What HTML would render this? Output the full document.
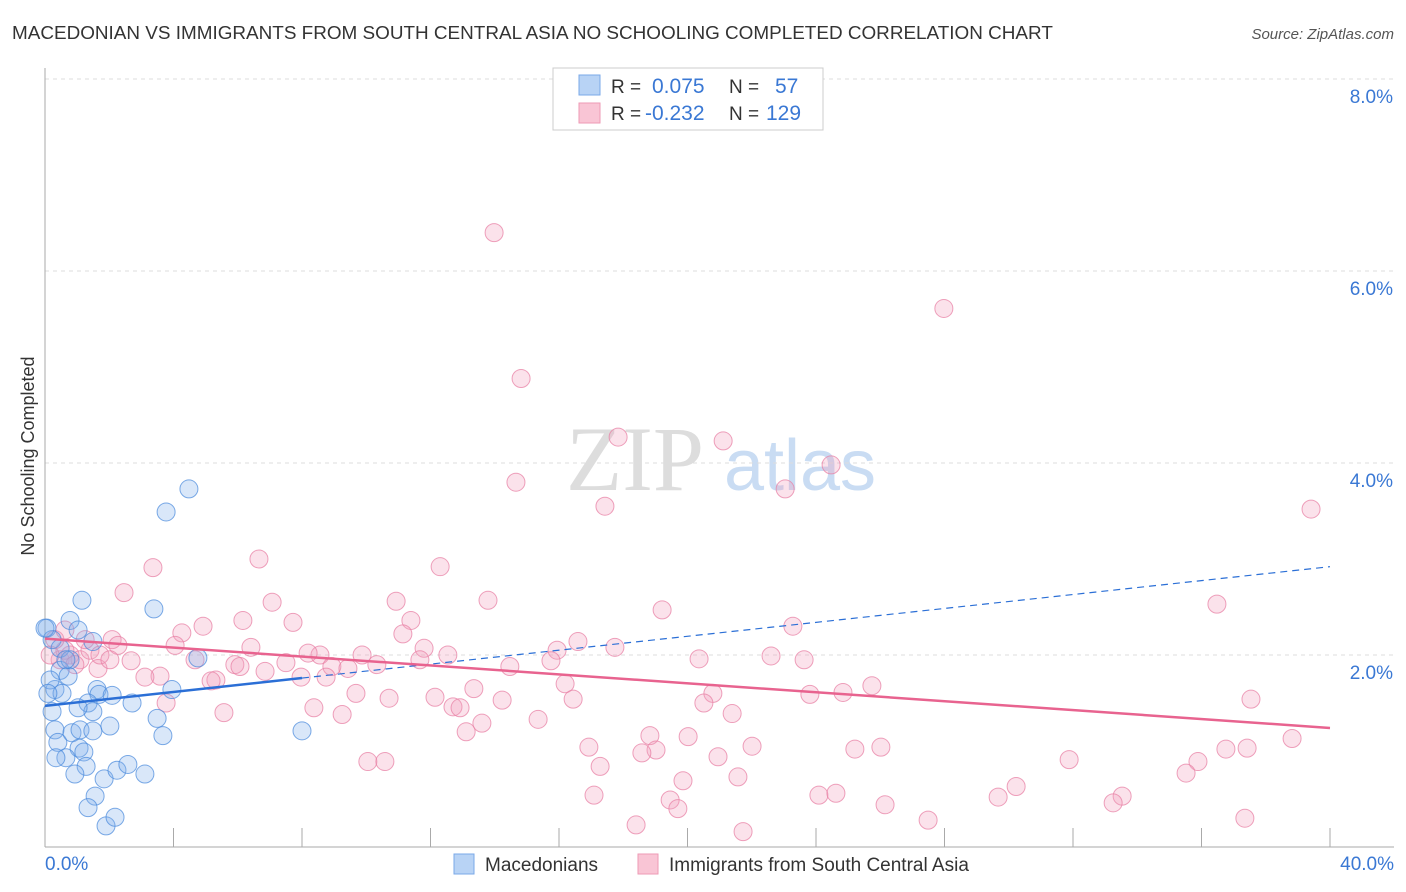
<!DOCTYPE html>
<html><head><meta charset="utf-8"><style>
body{margin:0;background:#fff;font-family:"Liberation Sans",sans-serif;}
svg{display:block}
</style></head><body>
<svg id="chart" width="1406" height="892" xmlns="http://www.w3.org/2000/svg">
<text x="12" y="39" font-size="18.9" fill="#333">MACEDONIAN VS IMMIGRANTS FROM SOUTH CENTRAL ASIA NO SCHOOLING COMPLETED CORRELATION CHART</text>
<text x="1394" y="39" font-size="15" fill="#555" font-style="italic" text-anchor="end">Source: ZipAtlas.com</text>
<text x="34" y="456" font-size="18" fill="#333" text-anchor="middle" transform="rotate(-90 34 456)">No Schooling Completed</text>
<g><text x="635" y="490" font-size="92" fill="#ddd" font-family="Liberation Serif,serif" text-anchor="middle">ZIP</text><text x="800" y="490" font-size="72" fill="#c9dcf3" text-anchor="middle">atlas</text></g>
<g id="grid"></g><g id="axes"></g><g id="pts"></g><g id="lines"></g>
<g>
<rect x="553" y="68" width="270" height="62" fill="#fff" stroke="#ccc"/>
<rect x="579" y="75" width="21" height="20" fill="#b8d3f5" stroke="#7aa8e8"/>
<rect x="579" y="103" width="21" height="20" fill="#f9c5d5" stroke="#ee9ab5"/>
<text x="611" y="93" font-size="19" fill="#333">R = </text><text x="652" y="93" font-size="21" fill="#3a78d4">0.075</text>
<text x="729" y="93" font-size="19" fill="#333">N = </text><text x="775" y="93" font-size="21" fill="#3a78d4">57</text>
<text x="611" y="120" font-size="19" fill="#333">R = </text><text x="645" y="120" font-size="21" fill="#3a78d4">-0.232</text>
<text x="729" y="120" font-size="19" fill="#333">N = </text><text x="766" y="120" font-size="21" fill="#3a78d4">129</text>
</g>
<g>
<rect x="454" y="854" width="20" height="20" fill="#b8d3f5" stroke="#7aa8e8"/>
<text x="485" y="871" font-size="19" fill="#333">Macedonians</text>
<rect x="638" y="854" width="20" height="20" fill="#f9c5d5" stroke="#ee9ab5"/>
<text x="669" y="871" font-size="19" fill="#333">Immigrants from South Central Asia</text>
</g>
</svg>
<script>
const yTicks=[2,4,6,8];
const xTickLabels=["0.0%","40.0%"];
const blueX=[0.06,0.22,0.78,1.03,1.15,0.47,0.31,0.53,0.22,0.72,1.62,1.68,2.09,2.71,3.95,1.34,1.49,1.03,0.31,0.40,0.84,1.09,1.49,2.02,1.06,1.21,0.65,1.28,0.93,1.84,2.24,2.58,3.11,1.56,1.34,1.90,2.18,3.49,3.67,3.39,3.77,4.48,8.0,4.76,1.49,0.16,0.09,0.47,0.78,0.34,0.65,0];
const blueY=[2.28,2.16,2.36,2.26,2.57,1.84,1.64,1.60,1.41,1.78,1.64,1.59,1.58,1.50,1.64,1.50,1.41,1.45,1.22,1.09,1.19,1.22,1.21,1.26,1.03,0.99,0.93,0.84,0.76,0.71,0.80,0.86,0.76,0.53,0.41,0.22,0.31,1.34,1.16,2.48,3.49,3.73,1.21,1.97,2.14,1.74,1.60,2.07,1.95,0.93,1.95,2.28];
const pinkX=[13.98,27.98,14.82,17.84,21.11,24.47,14.66,23.04,17.43,39.41,6.66,3.36,12.30,2.46,13.79,7.07,10.93,19.21,36.48,11.39,7.72,6.16,4.92,4.26,23.28,11.14,16.59,17.74,11.80,2.09,2.27,6.41,4.05,12.54,9.87,8.56,8.19,15.94,22.60,23.63,20.36,15.75,11.67,10.33,8.93,9.43,7.50,5.91,6.85,5.32,3.58,3.11,1.65,4.67,2.68,14.47,7.97,8.75,6.07,5.17,16.19,13.35,9.68,12.14,10.71,14.23,16.44,20.79,20.51,23.81,24.84,25.74,3.77,8.37,9.25,5.57,12.70,12.92,15.35,13.60,13.11,21.39,37.54,18.83,20.02,16.93,19.02,18.58,22.01,25.21,26.02,20.95,17.28,10.05,10.58,31.88,35.89,36.76,37.42,38.82,35.52,21.57,19.86,30.23,17.09,24.09,24.62,29.67,33.53,33.25,26.15,19.46,19.70,18.40,27.49,37.35,21.73,0.47,0.78,1.09,0.62,0.16,1.40,1.71,1.25,0.93,2.02,0.31,0.62];
const pinkY=[6.40,5.61,4.88,4.27,4.23,3.98,3.80,3.73,3.55,3.52,3.00,2.91,2.92,2.65,2.57,2.55,2.56,2.47,2.53,2.36,2.34,2.36,2.30,2.23,2.30,2.22,2.14,2.08,2.07,2.16,2.10,2.08,2.10,2.00,2.00,2.00,2.02,2.05,1.99,1.95,1.96,1.94,1.95,1.90,1.88,1.86,1.92,1.90,1.83,1.74,1.78,1.77,1.86,1.95,1.94,1.88,1.77,1.77,1.88,1.73,1.70,1.65,1.60,1.56,1.55,1.53,1.54,1.60,1.50,1.59,1.61,1.68,1.50,1.45,1.38,1.40,1.46,1.45,1.33,1.29,1.20,1.39,1.54,1.16,1.15,1.04,1.01,0.98,1.05,1.02,1.04,0.94,0.84,0.89,0.89,0.91,0.89,1.02,1.03,1.13,0.77,0.73,0.69,0.63,0.54,0.54,0.56,0.52,0.53,0.46,0.44,0.49,0.40,0.23,0.28,0.30,0.16,1.95,2.0,1.95,2.05,2.0,2.05,2.0,2.16,1.90,1.95,2.16,2.26];
const blueTrend=[1.47,2.92];
const pinkTrend=[2.17,1.24];
const blueSolidEnd=8;
const NS="http://www.w3.org/2000/svg";
const X=v=>45+v*32.125, Y=v=>847-v*96;
function mk(t,a,p){const e=document.createElementNS(NS,t);for(const k in a)e.setAttribute(k,a[k]);p.appendChild(e);return e;}
const grid=document.getElementById('grid'),axes=document.getElementById('axes'),pts=document.getElementById('pts'),lines=document.getElementById('lines');
yTicks.forEach(t=>{
 const l=mk('line',{x1:45,x2:1394,y1:Y(t),y2:Y(t),stroke:'#ddd','stroke-dasharray':'4,4'},grid);
 
 
 const tx=mk('text',{x:1393,y:Y(t)+24,'font-size':19,fill:'#3a78d4','text-anchor':'end'},grid);
 tx.textContent=t.toFixed(1)+'%';
 
 
});
const ya=mk('line',{x1:45,x2:45,y1:68,y2:847,stroke:'#aaa'},axes);


const xa=mk('line',{x1:45,x2:1394,y1:847,y2:847,stroke:'#aaa'},axes);


for(let i=0;i<=10;i++){const tk=mk('line',{x1:X(i*4),x2:X(i*4),y1:828,y2:847,stroke:'#aaa'},axes);
 
 }
const l0=mk('text',{x:45,y:870,'font-size':19,fill:'#3a78d4'},axes);l0.textContent=xTickLabels[0];


const l1=mk('text',{x:1394,y:870,'font-size':19,fill:'#3a78d4','text-anchor':'end'},axes);l1.textContent=xTickLabels[1];


function dots(xs,ys,fill,stroke,name){xs.forEach((x,i)=>{const c=mk('circle',{cx:X(x),cy:Y(ys[i]),r:9,fill:fill,stroke:stroke,'stroke-width':1},pts);
 
 });}
dots(pinkX,pinkY,'rgba(243,160,188,0.3)','rgba(232,130,165,0.75)','immigrant-point');
dots(blueX,blueY,'rgba(130,175,235,0.3)','rgba(70,135,220,0.7)','macedonian-point');
const by=x=>blueTrend[0]+(blueTrend[1]-blueTrend[0])*x/40;
const bl=mk('line',{x1:X(0),y1:Y(by(0)),x2:X(blueSolidEnd),y2:Y(by(blueSolidEnd)),stroke:'#2b6fd6','stroke-width':2.5},lines);


const bd=mk('line',{x1:X(blueSolidEnd),y1:Y(by(blueSolidEnd)),x2:X(40),y2:Y(by(40)),stroke:'#2b6fd6','stroke-width':1.2,'stroke-dasharray':'7,5'},lines);


const pl=mk('line',{x1:X(0),y1:Y(pinkTrend[0]),x2:X(40),y2:Y(pinkTrend[1]),stroke:'#e8638f','stroke-width':2.5},lines);


</script>
</body></html>
